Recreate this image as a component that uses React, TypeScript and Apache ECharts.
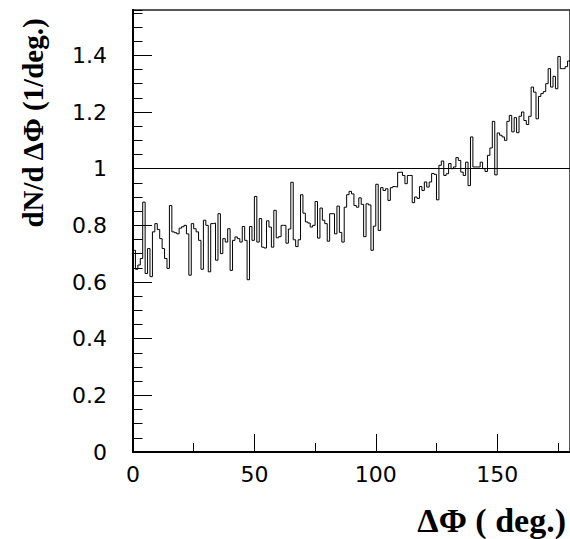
import { useEffect, useRef } from "react";
import * as echarts from "echarts";

// Histogram: dN/dΔΦ in 1-degree bins from 0 to 180 deg
const BIN_START = 0;
const BIN_WIDTH = 1;

const dn000to029 = [
  0.712, 0.645, 0.66, 0.683, 0.882, 0.63, 0.718, 0.619, 0.777, 0.806,
  0.785, 0.753, 0.718, 0.683, 0.648, 0.87, 0.777, 0.774, 0.77, 0.79,
  0.795, 0.8, 0.77, 0.624, 0.806, 0.788, 0.777, 0.747, 0.645, 0.818,
];
const dn030to059 = [
  0.8, 0.636, 0.806, 0.808, 0.677, 0.841, 0.7, 0.753, 0.741, 0.788,
  0.641, 0.747, 0.759, 0.753, 0.741, 0.796, 0.747, 0.608, 0.796, 0.747,
  0.902, 0.741, 0.824, 0.723, 0.72, 0.816, 0.794, 0.723, 0.853, 0.756,
];
const dn060to089 = [
  0.76, 0.8, 0.8, 0.737, 0.787, 0.952, 0.749, 0.725, 0.749, 0.908,
  0.843, 0.812, 0.808, 0.794, 0.8, 0.884, 0.755, 0.861, 0.818, 0.806,
  0.744, 0.841, 0.841, 0.77, 0.868, 0.775, 0.741, 0.864, 0.908, 0.92,
];
const dn090to119 = [
  0.911, 0.87, 0.864, 0.897, 0.874, 0.76, 0.876, 0.872, 0.712, 0.797,
  0.945, 0.782, 0.933, 0.923, 0.929, 0.888, 0.933, 0.937, 0.935, 0.987,
  0.988, 0.976, 0.947, 0.976, 0.976, 0.88, 0.9, 0.895, 0.937, 0.923,
];
const dn120to149 = [
  0.953, 0.935, 0.953, 0.983, 0.98, 0.89, 1.012, 1.027, 0.976, 0.982,
  1.018, 1.0, 1.006, 1.039, 1.029, 0.988, 0.976, 1.023, 0.94, 1.112,
  1.006, 1.006, 1.006, 1.023, 1.0, 0.99, 1.047, 1.073, 1.167, 0.978,
];
const dn150to179 = [
  1.126, 1.118, 1.112, 1.1, 1.167, 1.188, 1.13, 1.18, 1.127, 1.185,
  1.2, 1.17, 1.156, 1.185, 1.288, 1.27, 1.176, 1.255, 1.265, 1.272,
  1.3, 1.353, 1.288, 1.326, 1.282, 1.396, 1.353, 1.353, 1.36, 1.38,
];

const xMajorTicks = [0, 50, 100, 150];
const yMajorTicks = [0, 0.2, 0.4, 0.6, 0.8, 1, 1.2, 1.4];
const referenceLevel = 1;

const X_MIN = 0;
const X_MAX = 180;
const Y_MIN = 0;
const Y_MAX = 1.56;

export default function App() {
  const ref = useRef<HTMLDivElement>(null);

  useEffect(() => {
    if (!ref.current) return;
    const chart = echarts.init(ref.current, undefined, { renderer: "svg" });

    const values = [
      ...dn000to029,
      ...dn030to059,
      ...dn060to089,
      ...dn090to119,
      ...dn120to149,
      ...dn150to179,
    ];
    const stepData: [number, number][] = values.map((v, i) => [
      BIN_START + i * BIN_WIDTH,
      v,
    ]);
    stepData.push([BIN_START + values.length * BIN_WIDTH, values[values.length - 1]]);

    const labelFont = {
      fontFamily: "DejaVu Sans, Verdana, sans-serif",
      fontSize: 22,
      color: "#000",
    };

    chart.setOption({
      animation: false,
      grid: {
        left: 133,
        top: 10,
        width: 442,
        height: 442,
        show: true,
        borderColor: "#222",
        borderWidth: 1.5,
        backgroundColor: "transparent",
      },
      xAxis: [
        {
          type: "value",
          position: "bottom",
          min: X_MIN,
          max: X_MAX,
          interval: 25,
          axisLine: { show: true, lineStyle: { color: "#000", width: 2 } },
          axisTick: { show: true, inside: true, length: 9, lineStyle: { color: "#000", width: 1 } },
          axisLabel: { show: false },
          splitLine: { show: false },
        },
        {
          type: "value",
          position: "bottom",
          min: X_MIN,
          max: X_MAX,
          interval: 50,
          axisLine: { show: true, lineStyle: { color: "#000", width: 2 } },
          axisTick: { show: true, inside: true, length: 18, lineStyle: { color: "#000", width: 1 } },
          axisLabel: {
            show: true,
            margin: 11,
            showMaxLabel: false,
            ...labelFont,
            formatter: (v: number) => (xMajorTicks.includes(v) ? String(v) : ""),
          },
          splitLine: { show: false },
        },
      ],
      yAxis: [
        {
          type: "value",
          position: "left",
          min: Y_MIN,
          max: Y_MAX,
          interval: 0.05,
          axisLine: { show: true, lineStyle: { color: "#000", width: 2 } },
          axisTick: { show: true, inside: true, length: 9.5, lineStyle: { color: "#000", width: 1 } },
          axisLabel: { show: false },
          splitLine: { show: false },
        },
        {
          type: "value",
          position: "left",
          min: Y_MIN,
          max: Y_MAX,
          interval: 0.2,
          axisLine: { show: true, lineStyle: { color: "#000", width: 2 } },
          axisTick: { show: true, inside: true, length: 19, lineStyle: { color: "#000", width: 1 } },
          axisLabel: {
            show: true,
            margin: 26,
            showMaxLabel: false,
            ...labelFont,
            formatter: (v: number) => {
              const r = Math.round(v * 10) / 10;
              return yMajorTicks.includes(r) ? String(r) : "";
            },
          },
          splitLine: { show: false },
        },
      ],
      series: [
        {
          type: "line",
          xAxisIndex: 0,
          yAxisIndex: 0,
          step: "end",
          data: stepData,
          showSymbol: false,
          symbol: "none",
          lineStyle: { color: "#000", width: 1 },
          markLine: {
            silent: true,
            symbol: "none",
            label: { show: false },
            lineStyle: { color: "#000", width: 1, type: "solid" },
            data: [{ yAxis: referenceLevel }],
          },
        },
      ],
      graphic: [
        {
          type: "text",
          x: 33,
          y: 123,
          rotation: Math.PI / 2,
          style: {
            text: "dN/d\u2009\u0394\u03A6 (1/deg.)",
            fontFamily: "Liberation Serif, Times New Roman, serif",
            fontWeight: "bold",
            fontSize: 29,
            fill: "#000",
            textAlign: "center",
            textVerticalAlign: "middle",
          },
        },
        {
          type: "text",
          x: 566,
          y: 520,
          style: {
            text: "\u0394\u03A6 ( deg.)",
            fontFamily: "Liberation Serif, Times New Roman, serif",
            fontWeight: "bold",
            fontSize: 34,
            fill: "#000",
            textAlign: "right",
            textVerticalAlign: "middle",
          },
        },
      ],
    });

    return () => chart.dispose();
  }, []);

  return (
    <div
      ref={ref}
      style={{ position: "fixed", left: 0, top: 0, width: 570, height: 539, background: "#fff" }}
    />
  );
}
